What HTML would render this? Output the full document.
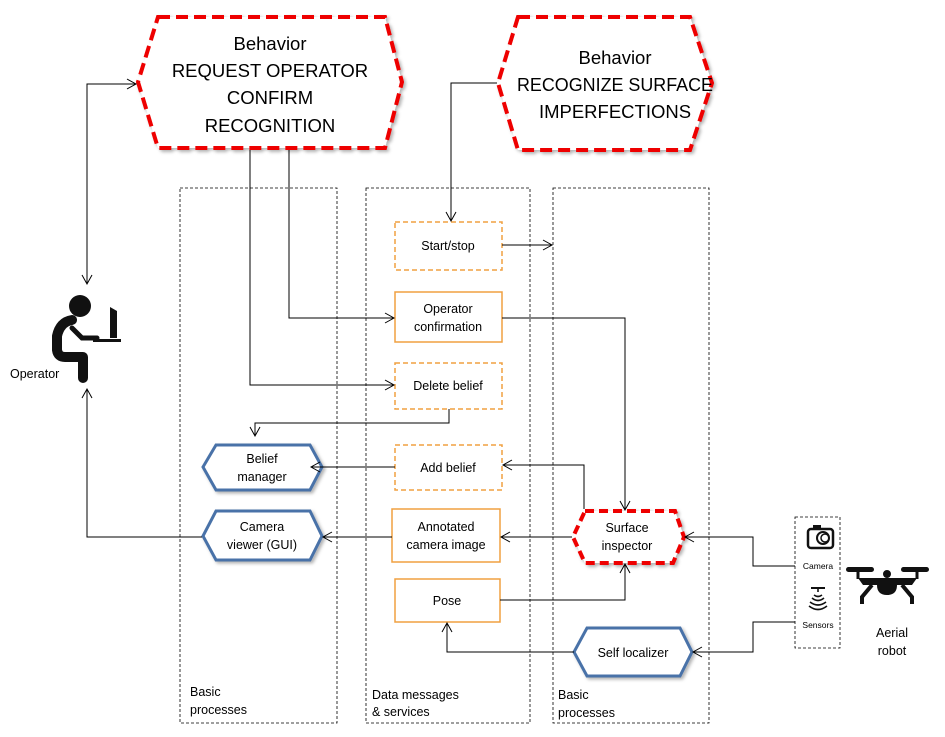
<!DOCTYPE html>
<html><head><meta charset="utf-8"><style>
html,body{margin:0;padding:0;background:#fff;}
svg{display:block;font-family:"Liberation Sans",sans-serif;}
</style></head><body>
<svg width="945" height="737" viewBox="0 0 945 737" xmlns="http://www.w3.org/2000/svg">
<defs>
<marker id="a" markerWidth="12" markerHeight="12" refX="10" refY="6" orient="auto" markerUnits="userSpaceOnUse">
<polyline points="1,1 10,6 1,11" fill="none" stroke="#000" stroke-width="1"/>
</marker>
<filter id="sh" x="-10%" y="-10%" width="130%" height="130%"><feDropShadow dx="2" dy="2" stdDeviation="1.5" flood-color="#000" flood-opacity="0.3"/></filter>
</defs>

<!-- columns -->
<g fill="none" stroke="#000" stroke-width="0.8" stroke-dasharray="3,2">
<rect x="180" y="188" width="157" height="535"/>
<rect x="366" y="188" width="164" height="535"/>
<rect x="553" y="188" width="156" height="535"/>
<rect x="795" y="517" width="45" height="131"/>
</g>

<!-- top hexagons -->
<g fill="#fff" stroke="#e00" stroke-width="4" stroke-dasharray="12,6" filter="url(#sh)">
<polygon points="158,17 385,17 402,82 385,148 158,148 138,82"/>
<polygon points="518,17 690,17 712,83 690,150 518,150 498,83"/>
</g>
<g font-size="18.5" text-anchor="middle" fill="#000">
<text x="270" y="50">Behavior</text>
<text x="270" y="77">REQUEST OPERATOR</text>
<text x="270" y="104">CONFIRM</text>
<text x="270" y="132">RECOGNITION</text>
<text x="615" y="64">Behavior</text>
<text x="615" y="91" textLength="196" lengthAdjust="spacingAndGlyphs">RECOGNIZE SURFACE</text>
<text x="615" y="118">IMPERFECTIONS</text>
</g>

<!-- orange boxes -->
<g fill="#fff" stroke="#f0a040" stroke-width="1.5">
<rect x="395" y="222" width="107" height="48" stroke-dasharray="5,3"/>
<rect x="395" y="292" width="107" height="50"/>
<rect x="395" y="363" width="107" height="46" stroke-dasharray="5,3"/>
<rect x="395" y="445" width="107" height="45" stroke-dasharray="5,3"/>
<rect x="392" y="509" width="108" height="53"/>
<rect x="395" y="579" width="105" height="43"/>
</g>
<g font-size="12.5" text-anchor="middle" fill="#000">
<text x="448" y="250">Start/stop</text>
<text x="448" y="313">Operator</text>
<text x="448" y="331">confirmation</text>
<text x="448" y="390">Delete belief</text>
<text x="448" y="472">Add belief</text>
<text x="446" y="531">Annotated</text>
<text x="446" y="549">camera image</text>
<text x="447" y="605">Pose</text>
</g>

<!-- blue hexagons -->
<g fill="#fff" stroke="#4a72a8" stroke-width="3" filter="url(#sh)">
<polygon points="216,445 310,445 322,467 310,490 216,490 203,467"/>
<polygon points="216,511 310,511 322,536 310,560 216,560 203,536"/>
<polygon points="587,628 680,628 692,652 680,676 587,676 574,652"/>
</g>
<polygon points="585,511 675,511 684,537 673,563 585,563 573,537" fill="#fff" stroke="#e00" stroke-width="4" stroke-dasharray="9,5" filter="url(#sh)"/>
<g font-size="12.5" text-anchor="middle" fill="#000">
<text x="262" y="463">Belief</text>
<text x="262" y="481">manager</text>
<text x="262" y="531">Camera</text>
<text x="262" y="549">viewer (GUI)</text>
<text x="627" y="532">Surface</text>
<text x="627" y="550">inspector</text>
<text x="633" y="657">Self localizer</text>
</g>

<!-- connectors (drawn on top) -->
<g fill="none" stroke="#000" stroke-width="1">
<polyline points="87,283 87,84 136,84" marker-end="url(#a)"/>
<line x1="87" y1="100" x2="87" y2="284" marker-end="url(#a)"/>
<polyline points="289,150 289,318 394,318" marker-end="url(#a)"/>
<polyline points="250,150 250,385 394,385" marker-end="url(#a)"/>
<polyline points="497,83 451,83 451,221" marker-end="url(#a)"/>
<line x1="502" y1="245" x2="552" y2="245" marker-end="url(#a)"/>
<polyline points="502,318 625,318 625,510" marker-end="url(#a)"/>
<polyline points="449,409 449,423 255,423 255,436" marker-end="url(#a)"/>
<polyline points="584,509 584,465 503,465" marker-end="url(#a)"/>
<line x1="395" y1="467" x2="311" y2="467" marker-end="url(#a)"/>
<line x1="572" y1="537" x2="501" y2="537" marker-end="url(#a)"/>
<line x1="392" y1="537" x2="323" y2="537" marker-end="url(#a)"/>
<polyline points="202,537 87,537 87,389" marker-end="url(#a)"/>
<polyline points="500,600 625,600 625,564" marker-end="url(#a)"/>
<polyline points="795,566 753,566 753,537 685,537" marker-end="url(#a)"/>
<polyline points="795,622 753,622 753,652 693,652" marker-end="url(#a)"/>
<polyline points="574,652 447,652 447,623" marker-end="url(#a)"/>
</g>

<!-- column labels -->
<g font-size="12.5" fill="#000">
<text x="190" y="696">Basic</text>
<text x="190" y="714">processes</text>
<text x="372" y="699">Data messages</text>
<text x="372" y="716">&amp; services</text>
<text x="558" y="699">Basic</text>
<text x="558" y="717">processes</text>
<text x="10" y="378">Operator</text>
<text x="892" y="637" text-anchor="middle">Aerial</text>
<text x="892" y="655" text-anchor="middle">robot</text>
</g>
<g font-size="8.5" fill="#000" text-anchor="middle">
<text x="818" y="569">Camera</text>
<text x="818" y="628">Sensors</text>
</g>

<!-- operator icon -->
<g fill="#111" stroke="#111">
<circle cx="80" cy="306" r="11" stroke="none"/>
<path d="M72,320 Q60,322 57,336 L57,350 Q58,357 65,357 L83,357 L83,378" fill="none" stroke-width="10" stroke-linecap="round" stroke-linejoin="round"/>
<path d="M72,328 L82,338 L97,338" fill="none" stroke-width="5" stroke-linecap="round"/>
<path d="M110,307 L117,311 L117,338 L110,338 Z" stroke="none"/>
<rect x="93" y="339" width="28" height="3" stroke="none"/>
</g>

<!-- camera icon -->
<g fill="none" stroke="#111">
<rect x="808" y="529" width="25" height="19" rx="3" stroke-width="2.5"/>
<rect x="813" y="525" width="8" height="4" fill="#111" stroke="none"/>
<circle cx="823" cy="538" r="6" stroke-width="2"/>
<circle cx="825" cy="538" r="4" stroke-width="1.5"/>
</g>
<!-- sensor icon -->
<g fill="none" stroke="#111" stroke-width="1.6">
<line x1="811" y1="588" x2="825" y2="588" stroke-width="2"/>
<line x1="818" y1="588" x2="818" y2="592"/>
<path d="M814,595 Q818,598 822,595"/>
<path d="M812,598 Q818,603 824,598"/>
<path d="M810,602 Q818,608 826,602"/>
<path d="M809,606 Q818,613 827,606"/>
</g>
<!-- drone -->
<g fill="#111" stroke="#111">
<rect x="846" y="567" width="28" height="5" rx="2.5" stroke="none"/>
<rect x="901" y="567" width="28" height="5" rx="2.5" stroke="none"/>
<line x1="858" y1="572" x2="858" y2="579" stroke-width="3"/>
<line x1="917" y1="572" x2="917" y2="579" stroke-width="3"/>
<path d="M858,578 L917,578 L912,585 L863,585 Z" stroke="none"/>
<circle cx="887" cy="574" r="4" stroke="none"/>
<path d="M872,585 L862,597 L862,604" fill="none" stroke-width="4"/>
<path d="M902,585 L912,597 L912,604" fill="none" stroke-width="4"/>
<path d="M877,585 L897,585 Q897,595 887,595 Q877,595 877,585 Z" stroke="none"/>
</g>
</svg>
</body></html>
